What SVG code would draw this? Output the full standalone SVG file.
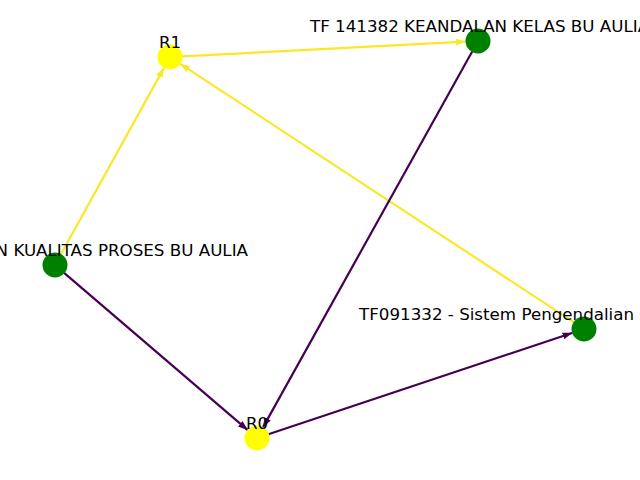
<svg xmlns="http://www.w3.org/2000/svg" width="640" height="480" viewBox="0 0 640 480">
<style>
.e{fill:none;stroke-width:2.2;stroke-linecap:butt}
.y{stroke:#fde725}
.p{stroke:#440154}
.lbl{font-family:"DejaVu Sans",sans-serif;font-size:16.7px;fill:#000}
.ny{fill:#ffff00}
.ng{fill:#008000}
</style>
<defs>
<marker id="ay" markerUnits="userSpaceOnUse" markerWidth="12" markerHeight="9" refX="9.5" refY="3.5" orient="auto"><path d="M0,0 L10,3.5 L0,7 z" fill="#fde725"/></marker>
<marker id="ap" markerUnits="userSpaceOnUse" markerWidth="12" markerHeight="9" refX="9.5" refY="3.5" orient="auto"><path d="M0,0 L10,3.5 L0,7 z" fill="#440154"/></marker>
</defs>
<rect width="640" height="480" fill="#fff"/>
<g id="edges">
<line class="e y" x1="182" y1="56.4" x2="465.5" y2="41.6" marker-end="url(#ay)"/>
<line class="e y" x1="60.8" y1="254.5" x2="164" y2="67.9" marker-end="url(#ay)"/>
<line class="e y" x1="574" y1="322.4" x2="180.4" y2="63.9" marker-end="url(#ay)"/>
<line class="e p" x1="472.2" y1="51.5" x2="263.1" y2="427.1" marker-end="url(#ap)"/>
<line class="e p" x1="64.1" y1="272.8" x2="247.5" y2="429.9" marker-end="url(#ap)"/>
<line class="e p" x1="268.4" y1="434.2" x2="572.1" y2="333" marker-end="url(#ap)"/>
</g>
<g id="R1"><circle class="ny" cx="170" cy="57" r="12.5"/><text class="lbl" x="170" y="48" text-anchor="middle">R1</text></g>
<g id="TF141382"><circle class="ng" cx="478" cy="41" r="12.5"/><text class="lbl" x="310" y="32">TF 141382 KEANDALAN KELAS BU AULIA</text></g>
<g id="TF_kualitas"><circle class="ng" cx="55" cy="265" r="12.5"/><text class="lbl" x="248" y="256" text-anchor="end">N KUALITAS PROSES BU AULIA</text></g>
<g id="R0"><circle class="ny" cx="257" cy="438" r="12.5"/><text class="lbl" x="257" y="429" text-anchor="middle">R0</text></g>
<g id="TF091332"><circle class="ng" cx="584" cy="329" r="12.5"/><text class="lbl" x="359" y="320">TF091332 - Sistem Pengendalian</text></g>
</svg>
